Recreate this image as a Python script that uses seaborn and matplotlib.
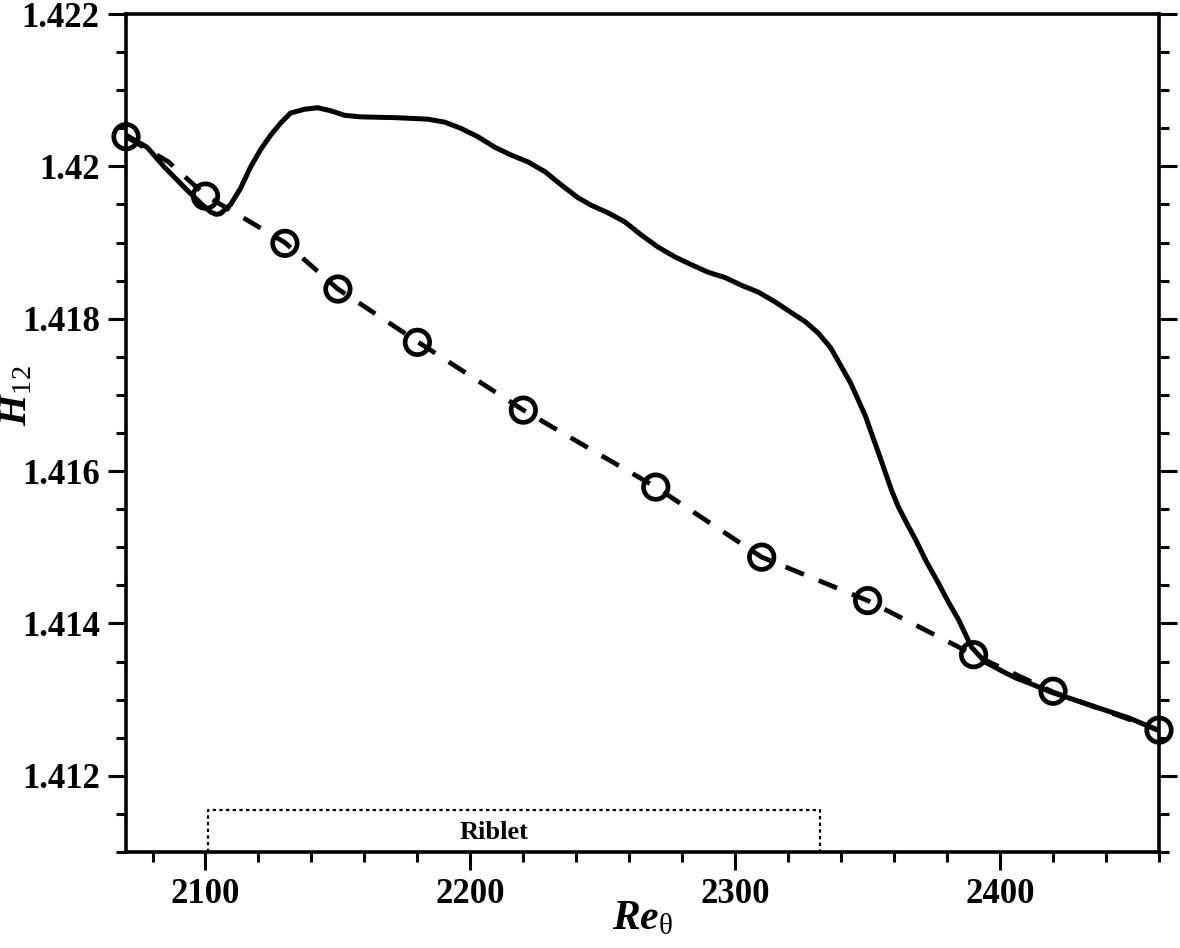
import numpy as np
import pandas as pd
import matplotlib
matplotlib.use("Agg")
import matplotlib.pyplot as plt
import seaborn as sns
from matplotlib.ticker import MultipleLocator, FuncFormatter

# --------------------------------------------------
# Data
# --------------------------------------------------
# riblet case (solid line)
riblet_re = [2070, 2078, 2084.5, 2093, 2099, 2102, 2104, 2105.7, 2109.5, 2113.2,
             2117, 2120.8, 2124.6, 2128.4, 2132.1, 2137.4, 2142.3, 2147.3, 2152.6, 2158.6,
             2171.5, 2183.9, 2190.4, 2196.4, 2202.8, 2209.3, 2215.3, 2221.7, 2228.2, 2234.2,
             2240.6, 2245.6, 2252, 2258.4, 2264.5, 2270.9, 2277.3, 2283.4, 2289.8, 2296.2,
             2302.3, 2308.7, 2315.1, 2321.2, 2326.5, 2331.4, 2336, 2340.1, 2343.5, 2346.5,
             2349.2, 2351.4, 2354.1, 2356.7, 2359, 2361.6, 2364.7, 2368.1, 2372.2, 2376.7,
             2380.5, 2384.3, 2386.9, 2389.2, 2391.8, 2394.5, 2398.3, 2402.1, 2406.2, 2410.8,
             2419.1, 2427.8, 2437.2, 2448.6, 2459.5]
riblet_h12 = [1.42041, 1.42025, 1.41999, 1.41969, 1.41949, 1.41940, 1.41937, 1.41938, 1.41950, 1.41971,
              1.41999, 1.42022, 1.42041, 1.42057, 1.42070, 1.42075, 1.42077, 1.42073, 1.42067, 1.42065,
              1.42064, 1.42062, 1.42058, 1.42050, 1.42039, 1.42025, 1.42015, 1.42006, 1.41993, 1.41976,
              1.41959, 1.41949, 1.41939, 1.41927, 1.41910, 1.41894, 1.41881, 1.41871, 1.41861, 1.41854,
              1.41844, 1.41835, 1.41822, 1.41808, 1.41796, 1.41781, 1.41762, 1.41737, 1.41716, 1.41693,
              1.41672, 1.41650, 1.41624, 1.41598, 1.41575, 1.41553, 1.41532, 1.41510, 1.41481, 1.41453,
              1.41428, 1.41405, 1.41386, 1.41369, 1.41359, 1.41349, 1.41342, 1.41335, 1.41328, 1.41322,
              1.41310, 1.41300, 1.41289, 1.41276, 1.41260]

# smooth wall (dashed line)
smooth_re = [2070, 2086, 2100, 2130, 2150, 2180, 2220, 2270, 2310, 2350, 2390, 2420, 2460]
smooth_h12 = [1.42039, 1.42006, 1.41962, 1.41900, 1.41839, 1.41770, 1.41680, 1.41579,
              1.41487, 1.41430, 1.41359, 1.41310, 1.41260]

# reference data (open circles)
ref_re = [2070, 2100, 2130, 2150, 2180, 2220, 2270, 2310, 2350, 2390, 2420, 2460]
ref_h12 = [1.42039, 1.41961, 1.41899, 1.41839, 1.41769, 1.41680, 1.41579,
           1.41487, 1.41430, 1.41359, 1.41311, 1.41260]

# riblet section marker
riblet_start = 2101
riblet_end = 2332
riblet_top = 1.41155

# --------------------------------------------------
# Style
# --------------------------------------------------
sns.set_style("ticks")
plt.rcParams["font.family"] = ["Liberation Serif", "DejaVu Serif"]
plt.rcParams["font.weight"] = "bold"
plt.rcParams["text.color"] = "black"
plt.rcParams["axes.labelcolor"] = "black"
plt.rcParams["mathtext.fontset"] = "custom"
plt.rcParams["mathtext.rm"] = "Liberation Serif:regular"
plt.rcParams["mathtext.it"] = "Liberation Serif:italic"
plt.rcParams["mathtext.bf"] = "Liberation Serif:bold"
plt.rcParams["mathtext.bfit"] = "Liberation Serif:bold:italic"

fig = plt.figure(figsize=(11.8, 9.48), dpi=100)
ax = fig.add_axes([0.1068, 0.1013, 0.8754, 0.8839])

df_rib = pd.DataFrame({"Re": riblet_re, "H12": riblet_h12})
df_smooth = pd.DataFrame({"Re": smooth_re, "H12": smooth_h12})
df_ref = pd.DataFrame({"Re": ref_re, "H12": ref_h12})

sns.lineplot(data=df_smooth, x="Re", y="H12", ax=ax, color="black", lw=3.4,
             linestyle=(0, (4.2, 3.4)), sort=False, estimator=None)
sns.lineplot(data=df_rib, x="Re", y="H12", ax=ax, color="black", lw=3.6,
             sort=False, estimator=None, solid_joinstyle="round", solid_capstyle="round")
sns.scatterplot(data=df_ref, x="Re", y="H12", ax=ax, marker="o", s=310,
                facecolor="none", edgecolor="black", linewidth=3.4, zorder=5)
ax.collections[-1].set_facecolor("none")
ax.collections[-1].set_clip_on(False)

# riblet box
ax.plot([riblet_start, riblet_start, riblet_end, riblet_end],
        [1.411, riblet_top, riblet_top, 1.411],
        color="black", lw=1.6, linestyle=(0, (1.5, 1.5)))
ax.text(2209, 1.41126, "Riblet", ha="center", va="center", fontsize=19,
        fontweight="bold", color="black")

# --------------------------------------------------
# Axes
# --------------------------------------------------
ax.set_xlim(2070, 2460)
ax.set_ylim(1.411, 1.422)
ax.xaxis.set_major_locator(MultipleLocator(100))
ax.xaxis.set_minor_locator(MultipleLocator(20))
ax.yaxis.set_major_locator(MultipleLocator(0.002))
ax.yaxis.set_minor_locator(MultipleLocator(0.0005))
ax.yaxis.set_major_formatter(FuncFormatter(lambda v, p: "%g" % v))

ax.tick_params(which="both", direction="out", width=2.2, colors="black",
               left=True, right=True, top=False, bottom=True, labelright=False)
ax.tick_params(which="major", length=13, labelsize=25, pad=6)
ax.tick_params(which="minor", length=7.5)
for lab in ax.get_xticklabels() + ax.get_yticklabels():
    lab.set_fontweight("bold")

for side in ["left", "right", "top", "bottom"]:
    ax.spines[side].set_visible(True)
    ax.spines[side].set_linewidth(2.6)
    ax.spines[side].set_color("black")

ax.set_xlabel(r"$\mathbfit{Re}_{\mathrm{\theta}}$", fontsize=30, labelpad=-8, color="black")
ax.set_ylabel(r"$\mathbfit{H}_{12}$", fontsize=29, color="black")
ax.yaxis.set_label_coords(-0.088, 0.545)

fig.savefig("out.png", dpi=100, facecolor="white")
plt.close(fig)
